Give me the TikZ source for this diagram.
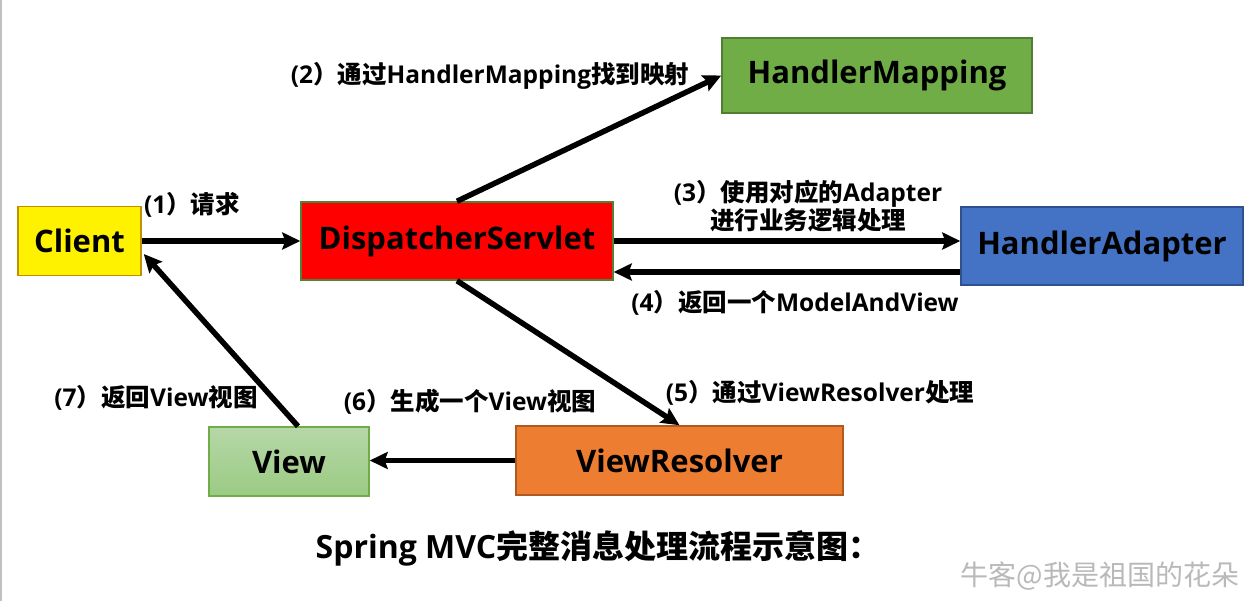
\documentclass[tikz,border=0pt]{standalone}
\usepackage{fontspec}
\setmainfont{Open Sans}
\newfontfamily\cjk{Noto Sans CJK SC}
\newcommand\zh[1]{{\cjk #1}}
\usetikzlibrary{arrows.meta}
\definecolor{clientB}{RGB}{191,144,0}
\definecolor{dsB}{RGB}{84,130,53}
\definecolor{hmF}{RGB}{112,173,71}
\definecolor{hmB}{RGB}{80,126,50}
\definecolor{haF}{RGB}{68,114,196}
\definecolor{haB}{RGB}{47,82,143}
\definecolor{viewT}{RGB}{182,215,168}
\definecolor{viewBt}{RGB}{155,203,131}
\definecolor{vrF}{RGB}{237,125,49}
\definecolor{vrB}{RGB}{174,90,33}
\definecolor{edge}{RGB}{192,192,192}
\begin{document}
\begin{tikzpicture}[x=1pt,y=-1pt,
  box/.style={draw, line width=1.5pt, inner sep=0pt,
    font=\fontsize{31}{36}\selectfont\bfseries},
  lbl/.style={inner sep=0pt, align=center,
    font=\fontsize{24.5}{28}\selectfont\bfseries},
  arr/.style={line width=5.5pt, -{Stealth[length=18pt,width=17pt,inset=3pt]}}]
\useasboundingbox (0,0) rectangle (1259,601);
\fill[white] (0,0) rectangle (1259,601);
\draw[edge, line width=2pt] (1,0) -- (1,601);

% components
\node[box, fill=yellow, draw=clientB, minimum width=123pt, minimum height=69pt] (client) at (79.5,241) {Client};
\node[box, fill=red, draw=dsB, minimum width=312pt, minimum height=78pt] (ds) at (457,241) {DispatcherServlet};
\node[box, fill=hmF, draw=hmB, minimum width=310pt, minimum height=75pt] (hm) at (877,75.5) {HandlerMapping};
\node[box, fill=haF, draw=haB, minimum width=282pt, minimum height=78pt] (ha) at (1102,246) {HandlerAdapter};
\node[box, top color=viewT, bottom color=viewBt, draw=hmF, minimum width=160pt, minimum height=69pt] (view) at (289,461.5) {View};
\node[box, fill=vrF, draw=vrB, minimum width=327pt, minimum height=69pt] (vr) at (679.5,460.5) {ViewResolver};

% request flow
\coordinate (a4) at ([yshift=-26pt]ha.west);
\coordinate (a7) at ([xshift=2pt,yshift=-13pt]client.east);
\draw[arr] (client.east) -- (client.east -| ds.west);
\draw[arr] (ds.north) -- (hm.west);
\draw[arr] (ds.east) -- (ds.east -| ha.west);
\draw[arr] (a4) -- (a4 -| ds.east);
\draw[arr] (ds.south) -- (vr.north);
\draw[arr] (vr.west) -- (vr.west -| view.east);
\draw[arr] ([xshift=9pt]view.north) -- (a7);

% step labels
\node[lbl] (l1) at (192,205) {(1\zh{）请求}};
\node[lbl] (l2) at (490,76) {(2\zh{）通过}HandlerMapping\zh{找到映射}};
\node[lbl] (l3) at (808,206) {(3\zh{）使用对应的}Adapter\\\zh{进行业务逻辑处理}};
\node[lbl] (l4) at (795,303) {(4\zh{）返回一个}ModelAndView};
\node[lbl] (l5) at (820,393) {(5\zh{）通过}ViewResolver\zh{处理}};
\node[lbl] (l6) at (470,402) {(6\zh{）生成一个}View\zh{视图}};
\node[lbl] (l7) at (156,398) {(7\zh{）返回}View\zh{视图}};

% caption
\node[inner sep=0pt, font=\fontsize{32}{36}\selectfont\bfseries] (title) at (598,548) {Spring MVC\zh{完整消息处理流程示意图：}};
\node[inner sep=0pt, text=gray!55, font=\cjk\fontsize{28}{32}\selectfont] (mark) at (1100,576) {牛客@我是祖国的花朵};
\end{tikzpicture}
\end{document}
